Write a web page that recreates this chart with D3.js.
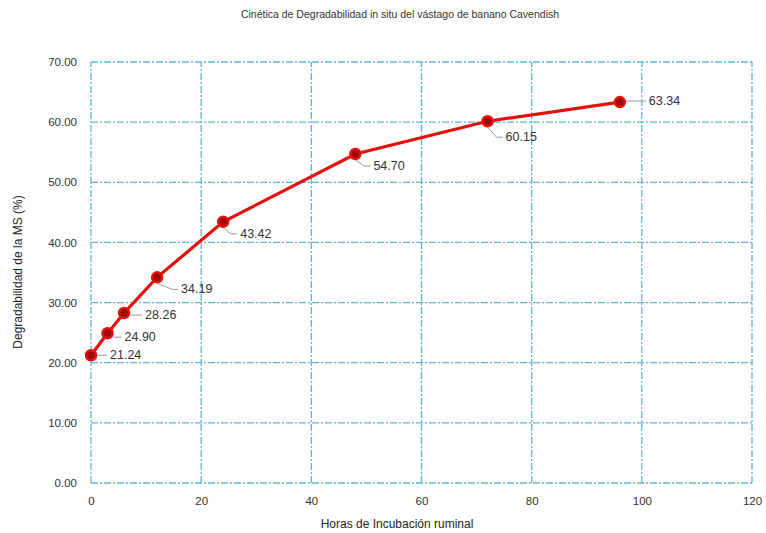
<!DOCTYPE html>
<html>
<head>
<meta charset="utf-8">
<script src="https://cdn.jsdelivr.net/npm/d3@7"></script>
<style>
  body { margin: 0; background: #fff; }
  svg { display: block; font-family: "Liberation Sans", Arial, sans-serif; }
</style>
</head>
<body>
<div id="chart"></div>
<script>
// data
let hours = [0, 3, 6, 12, 24, 48, 72, 96];
let degradability = [21.24, 24.90, 28.26, 34.19, 43.42, 54.70, 60.15, 63.34];
let xTicks = [0, 20, 40, 60, 80, 100, 120];
let yTicks = [0, 10, 20, 30, 40, 50, 60, 70];
let title = "Cinética de Degradabilidad in situ del vástago de banano Cavendish";
let xTitle = "Horas de Incubación ruminal";
let yTitle = "Degradabilidad de la MS (%)";

// label offsets (dx, dy) from each point
let labelOffsets = [[19, 4], [17, 8], [21, 6], [24, 16], [17, 16], [18, 16], [18, 20], [29, 3]];

let width = 766, height = 533;
let margin = { top: 62, right: 14, bottom: 50, left: 91 };

let svg = d3.select("#chart").append("svg")
    .attr("width", width)
    .attr("height", height);

let x = d3.scaleLinear().domain([0, 120]).range([margin.left, width - margin.right]);
let y = d3.scaleLinear().domain([0, 70]).range([height - margin.bottom, margin.top]);

let gridColor = "#5fb6d6";

// grid
svg.append("g")
    .selectAll("line")
    .data(yTicks)
    .join("line")
    .attr("x1", x(0)).attr("x2", x(120))
    .attr("y1", d => y(d)).attr("y2", d => y(d))
    .attr("stroke", gridColor)
    .attr("stroke-width", 1.3)
    .attr("stroke-dasharray", "7,2,2,2");

svg.append("g")
    .selectAll("line")
    .data(xTicks)
    .join("line")
    .attr("y1", y(0)).attr("y2", y(70))
    .attr("x1", d => x(d)).attr("x2", d => x(d))
    .attr("stroke", gridColor)
    .attr("stroke-width", 1.3)
    .attr("stroke-dasharray", "7,2,2,2");

// axes (labels only)
let xAxis = svg.append("g")
    .attr("transform", "translate(0," + y(0) + ")")
    .call(d3.axisBottom(x).tickValues(xTicks).tickSize(0).tickPadding(14));
let yAxis = svg.append("g")
    .attr("transform", "translate(" + x(0) + ",0)")
    .call(d3.axisLeft(y).tickValues(yTicks).tickSize(0).tickPadding(14).tickFormat(d3.format(".2f")));
[xAxis, yAxis].forEach(a => {
    a.select(".domain").remove();
    a.selectAll("text").attr("font-size", 11.5).attr("fill", "#333").style("font-family", "Liberation Sans, Arial, sans-serif");
});

// title and axis titles
svg.append("text")
    .attr("x", 400).attr("y", 18)
    .attr("text-anchor", "middle")
    .attr("font-size", 10.5)
    .attr("fill", "#333")
    .text(title);

svg.append("text")
    .attr("x", 397).attr("y", 528)
    .attr("text-anchor", "middle")
    .attr("font-size", 12)
    .attr("fill", "#222")
    .text(xTitle);

svg.append("text")
    .attr("transform", "translate(22," + 272 + ") rotate(-90)")
    .attr("text-anchor", "middle")
    .attr("font-size", 12)
    .attr("fill", "#222")
    .text(yTitle);

let points = hours.map((h, i) => ({ h: h, v: degradability[i], off: labelOffsets[i] }));

// leader lines
svg.append("g")
    .selectAll("path")
    .data(points)
    .join("path")
    .attr("d", d => {
        let px = x(d.h), py = y(d.v);
        let tx = px + d.off[0] - 3, ty = py + d.off[1] - 4;
        if (d.off[1] < 9) return "M" + (px + 6) + "," + ty + "H" + tx;
        return "M" + px + "," + (py + 6) + "L" + (tx - 6) + "," + ty + "H" + tx;
    })
    .attr("fill", "none")
    .attr("stroke", "#999")
    .attr("stroke-width", 1);

// line
svg.append("path")
    .datum(points)
    .attr("d", d3.line().x(d => x(d.h)).y(d => y(d.v)))
    .attr("fill", "none")
    .attr("stroke", "#e3120f")
    .attr("stroke-width", 3.2);

// markers
svg.append("g")
    .selectAll("circle")
    .data(points)
    .join("circle")
    .attr("cx", d => x(d.h))
    .attr("cy", d => y(d.v))
    .attr("r", 5)
    .attr("fill", "#a0060a")
    .attr("stroke", "#e3120f")
    .attr("stroke-width", 2.5);

// data labels
svg.append("g")
    .selectAll("text")
    .data(points)
    .join("text")
    .attr("x", d => x(d.h) + d.off[0])
    .attr("y", d => y(d.v) + d.off[1])
    .attr("font-size", 12.5)
    .attr("fill", "#333")
    .text(d => d3.format(".2f")(d.v));
</script>
</body>
</html>
